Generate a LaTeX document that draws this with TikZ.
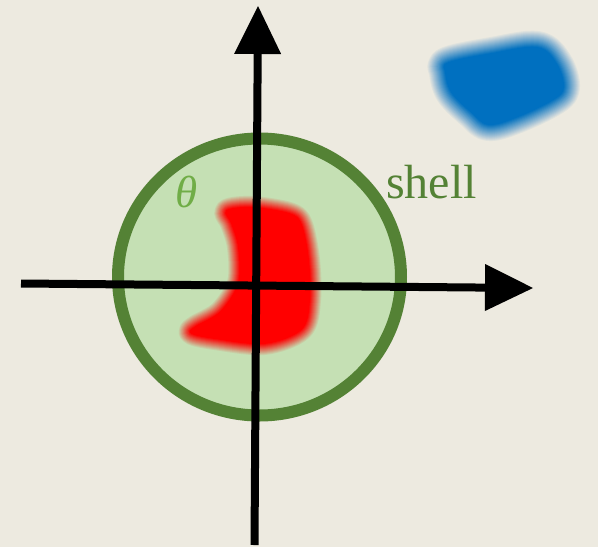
\documentclass[tikz,border=0pt]{standalone}
\usepackage{fontspec}
\setmainfont{Liberation Serif}
\usetikzlibrary{arrows.meta}
\definecolor{bg}{HTML}{EDEAE0}
\definecolor{shellfill}{HTML}{C5E0B4}
\definecolor{shellring}{HTML}{548235}
\definecolor{thetagreen}{HTML}{70AD47}
\definecolor{blobred}{HTML}{FF0000}
\definecolor{blobblue}{HTML}{0070C0}
\tikzset{
  axisline/.style={line width=8pt, line cap=butt, -{Triangle[length=48pt,width=47pt,line width=0pt]}},
  blurlayer/.style={line join=round}
}
\begin{document}
\begin{tikzpicture}[x=1pt,y=-1pt]
\useasboundingbox (0,0) rectangle (598,547);
\fill[bg] (0,0) rectangle (598,547);

% blue blob (blurred): layer j has half-width j and opacity 1/j
\foreach \j [evaluate=\j as \op using 1/\j, evaluate=\j as \lw using 2*\j] in {17,16,...,1} {
  \filldraw[blobblue, blurlayer, opacity=\op, line width=\lw pt]
    plot[smooth cycle, tension=0.6] coordinates {(449,63) (492,54) (537,48) (556,64) (563,87) (553,99) (518,116) (489,124) (472,112) (452,92) (446,72)};
}

% shell
\coordinate (c) at (259.5,277);
\fill[shellfill] (c) ellipse [x radius=141.5, y radius=138.5];

% red blob (blurred)
\foreach \j [evaluate=\j as \op using 1/\j, evaluate=\j as \lw using 2*\j] in {12,11,...,1} {
  \filldraw[blobred, blurlayer, opacity=\op, line width=\lw pt]
    plot[smooth cycle, tension=0.55] coordinates {(227,211) (252,208) (289,214) (301,225) (308,260) (309,300) (301,329) (264,343) (215,338) (192,333) (196,327) (221,312) (239,283) (239,247) (232,223)};
}

\draw[shellring, line width=12pt] (c) ellipse [x radius=141.5, y radius=138.5];

% labels
\node[text=thetagreen, font=\fontsize{45}{45}\selectfont\itshape, inner sep=0pt] (theta) at (187,192) {θ};
\node[text=shellring, font=\fontsize{48}{48}\selectfont, inner sep=0pt, anchor=base west] (shell) at (386,198) {shell};

% axes
\coordinate (ybot) at (254.5,545);
\coordinate (ytop) at (258,6);
\coordinate (xleft) at (21,283.5);
\coordinate (xright) at (533,288);
\draw[axisline] (ybot) -- (ytop);
\draw[axisline] (xleft) -- (xright);
\end{tikzpicture}
\end{document}
